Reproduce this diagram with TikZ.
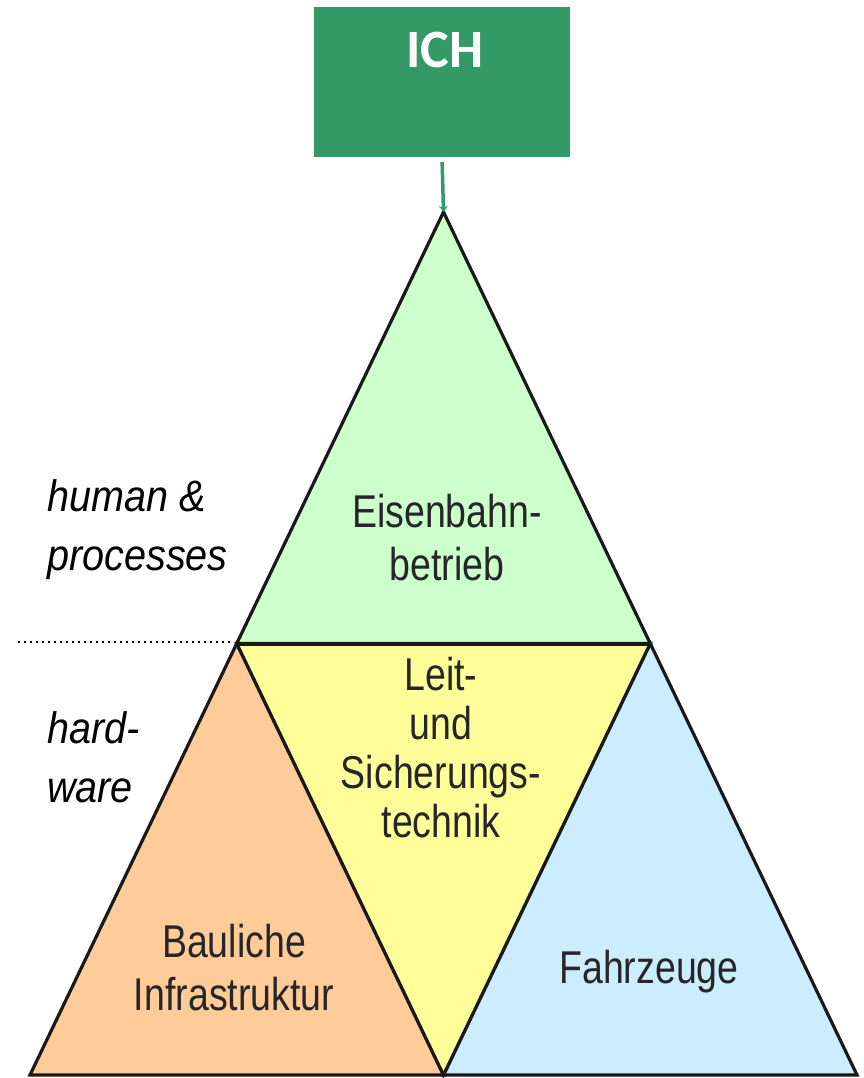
\documentclass[tikz,border=0pt]{standalone}
\usepackage{fontspec}
\setmainfont{Liberation Sans}
\newfontfamily\boxfont{Carlito}
\newfontfamily\areafont[FakeStretch=0.815]{Liberation Sans}
\newfontfamily\layerfont[FakeStretch=0.9]{Liberation Sans}
\usetikzlibrary{arrows.meta}
\definecolor{ichgreen}{RGB}{51,153,102}
\definecolor{opsgreen}{RGB}{204,255,204}
\definecolor{cssyellow}{RGB}{255,255,153}
\definecolor{infraorange}{RGB}{255,204,153}
\definecolor{vehicleblue}{RGB}{204,236,255}
\tikzset{
  area/.style={draw=black!90, line width=3.2pt, line join=miter},
  arealabel/.style={font=\areafont\fontsize{46}{53}\selectfont, text=black!85, align=center, inner sep=0pt, anchor=base},
  layerlabel/.style={font=\layerfont\itshape\fontsize{44}{59}\selectfont, align=left, inner sep=0pt, anchor=base west},
}
\begin{document}
\begin{tikzpicture}[x=1pt,y=1pt]
\useasboundingbox (0,0) rectangle (864,-1078);

% corner points of the pyramid and the midpoints of its sides
\coordinate (apex) at (443.5,-212);
\coordinate (bl) at (30,-1075);
\coordinate (br) at (857,-1075);
\coordinate (ml) at (236.75,-643.5);
\coordinate (mr) at (650.25,-643.5);
\coordinate (mb) at (443.5,-1075);

% four sub-triangles
\filldraw[area, fill=infraorange] (ml) -- (bl) -- (mb) -- cycle;
\filldraw[area, fill=vehicleblue] (mr) -- (mb) -- (br) -- cycle;
\filldraw[area, fill=cssyellow] (ml) -- (mr) -- (mb) -- cycle;
\filldraw[area, fill=opsgreen] (apex) -- (ml) -- (mr) -- cycle;
\draw[black!90, line width=4pt] (ml) -- (mr);

% top box
\node[fill=ichgreen, minimum width=256pt, minimum height=150pt, inner sep=0pt] (ich) at (442,-82) {};
\node[font=\boxfont\bfseries\fontsize{54}{60}\selectfont, text=white, anchor=base, inner sep=0pt] (ichtext) at (445,-68) {ICH};
\draw[ichgreen, line width=3.5pt, shorten <=5pt, -{Stealth[length=6pt,width=9pt]}] (ich.south) -- (apex);

% layer separator
\coordinate (sepstart) at (18,-642);
\draw[line width=2pt, dash pattern=on 2pt off 4pt] (sepstart) -- ([xshift=-7pt]ml |- sepstart);

% layer names (anchored at the baseline of their last line)
\node[layerlabel] (human) at (47,-570) {human \&\\processes};
\node[layerlabel] (hardware) at (47,-802) {hard-\\ware};

% area names (anchored at the baseline of their last line)
\node[arealabel] (ops) at (447,-580) {Eisenbahn-\\betrieb};
\node[arealabel, font=\areafont\fontsize{46}{49}\selectfont] (css) at (441,-837) {Leit-\\und\\Sicherungs-\\technik};
\node[arealabel] (infra) at (234,-1010) {Bauliche\\Infrastruktur};
\node[arealabel] (veh) at (649,-983) {Fahrzeuge};
\end{tikzpicture}
\end{document}
